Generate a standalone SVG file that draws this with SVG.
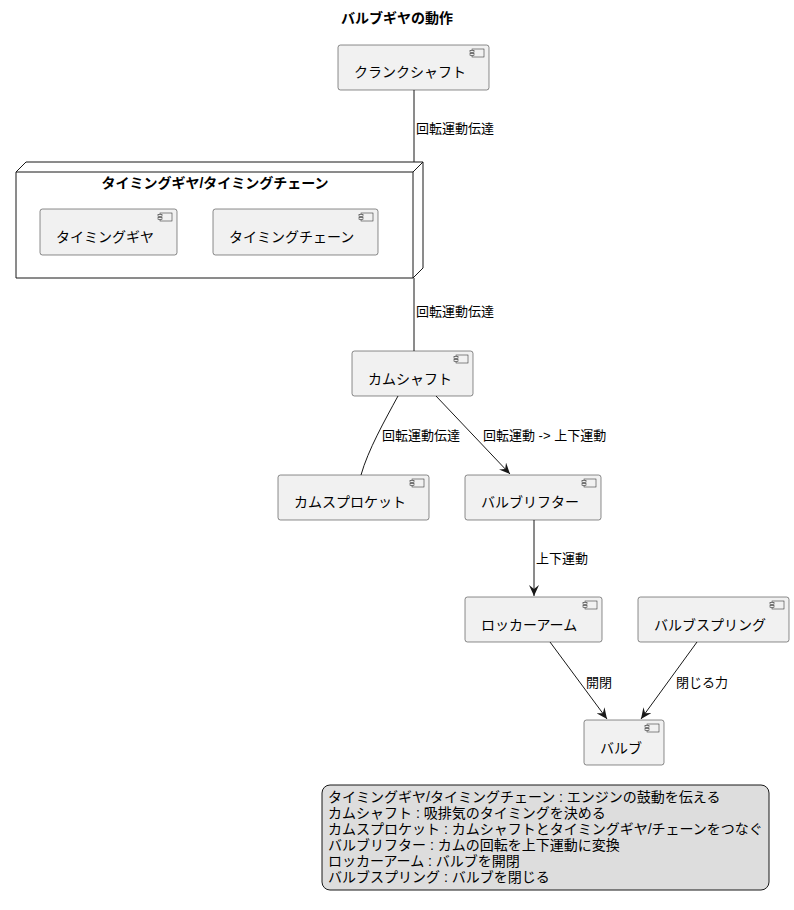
<svg xmlns="http://www.w3.org/2000/svg" width="794" height="910" viewBox="0 0 794 910">
<defs>
<style>
text{font-family:"Liberation Sans","Noto Sans CJK JP",sans-serif;font-size:14px;fill:#000}
.b{font-weight:bold}
.comp{fill:#F1F1F1;stroke:#181818;stroke-width:0.5}
.ic{fill:#F1F1F1;stroke:#181818;stroke-width:0.5}
.e{fill:none;stroke:#181818;stroke-width:1}
.lb{font-size:13px}
</style>
<marker id="ah" viewBox="0 0 12 10" refX="11" refY="5" markerWidth="12" markerHeight="10" orient="auto" markerUnits="userSpaceOnUse">
<path d="M0,0 L11,5 L0,10 L4,5 Z" fill="#181818"/>
</marker>
<g id="icon">
<rect class="ic" x="0" y="0" width="12" height="8"/>
<rect class="ic" x="-2" y="1.5" width="4" height="2"/>
<rect class="ic" x="-2" y="4.5" width="4" height="2"/>
</g>
</defs>
<rect width="794" height="910" fill="#FFFFFF"/>
<text class="b" x="397" y="23" text-anchor="middle">バルブギヤの動作</text>

<g id="connectors">
<line class="e" x1="414" y1="90" x2="414" y2="172"/>
<text class="lb" x="416" y="133">回転運動伝達</text>
<line class="e" x1="414" y1="278" x2="414" y2="351"/>
<text class="lb" x="416" y="316">回転運動伝達</text>
<path class="e" d="M398,396 C385,420 368,450 361,475"/>
<text class="lb" x="382" y="440">回転運動伝達</text>
<line class="e" x1="436" y1="396" x2="510" y2="474" marker-end="url(#ah)"/>
<text class="lb" x="483" y="440">回転運動 -&gt; 上下運動</text>
<line class="e" x1="534" y1="520" x2="534" y2="596" marker-end="url(#ah)"/>
<text class="lb" x="536" y="563">上下運動</text>
<line class="e" x1="550" y1="642" x2="607" y2="719" marker-end="url(#ah)"/>
<text class="lb" x="586" y="687">開閉</text>
<line class="e" x1="697" y1="642" x2="641" y2="719" marker-end="url(#ah)"/>
<text class="lb" x="676" y="687">閉じる力</text>
</g>

<g id="crankshaft">
<rect class="comp" x="338" y="45" width="151" height="45" rx="2.5"/>
<use href="#icon" x="472" y="49"/>
<text x="354" y="77">クランクシャフト</text>
</g>

<g id="timing-node">
<path d="M16,172 L26,162 L423,162 L423,268 L413,278 L16,278 Z" fill="#FFFFFF" stroke="#181818" stroke-width="1"/>
<path d="M413,278 L413,172 L16,172 M413,172 L423,162" fill="none" stroke="#181818" stroke-width="1"/>
<text class="b" x="215" y="188" text-anchor="middle">タイミングギヤ/タイミングチェーン</text>
</g>

<g id="timing-gear">
<rect class="comp" x="40" y="209" width="137" height="46" rx="2.5"/>
<use href="#icon" x="160" y="213"/>
<text x="56" y="242">タイミングギヤ</text>
</g>

<g id="timing-chain">
<rect class="comp" x="213" y="209" width="165" height="46" rx="2.5"/>
<use href="#icon" x="361" y="213"/>
<text x="229" y="242">タイミングチェーン</text>
</g>

<g id="camshaft">
<rect class="comp" x="352" y="351" width="121" height="45" rx="2.5"/>
<use href="#icon" x="456" y="355"/>
<text x="368" y="384">カムシャフト</text>
</g>

<g id="cam-sprocket">
<rect class="comp" x="278" y="475" width="151" height="45" rx="2.5"/>
<use href="#icon" x="412" y="479"/>
<text x="294" y="507">カムスプロケット</text>
</g>

<g id="valve-lifter">
<rect class="comp" x="465" y="475" width="136" height="45" rx="2.5"/>
<use href="#icon" x="584" y="479"/>
<text x="481" y="507">バルブリフター</text>
</g>

<g id="rocker-arm">
<rect class="comp" x="465" y="597" width="137" height="45" rx="2.5"/>
<use href="#icon" x="585" y="601"/>
<text x="481" y="630">ロッカーアーム</text>
</g>

<g id="valve-spring">
<rect class="comp" x="638" y="597" width="151" height="45" rx="2.5"/>
<use href="#icon" x="772" y="601"/>
<text x="654" y="630">バルブスプリング</text>
</g>

<g id="valve">
<rect class="comp" x="584" y="720" width="80" height="45" rx="2.5"/>
<use href="#icon" x="647" y="724"/>
<text x="600" y="753">バルブ</text>
</g>

<g id="note">
<rect x="322" y="785" width="447" height="105" rx="8" fill="#DDDDDD" stroke="#181818" stroke-width="1"/>
<text x="328" y="802">タイミングギヤ/タイミングチェーン : エンジンの鼓動を伝える</text>
<text x="328" y="818">カムシャフト : 吸排気のタイミングを決める</text>
<text x="328" y="834">カムスプロケット : カムシャフトとタイミングギヤ/チェーンをつなぐ</text>
<text x="328" y="850">バルブリフター : カムの回転を上下運動に変換</text>
<text x="328" y="866">ロッカーアーム : バルブを開閉</text>
<text x="328" y="882">バルブスプリング : バルブを閉じる</text>
</g>
</svg>
